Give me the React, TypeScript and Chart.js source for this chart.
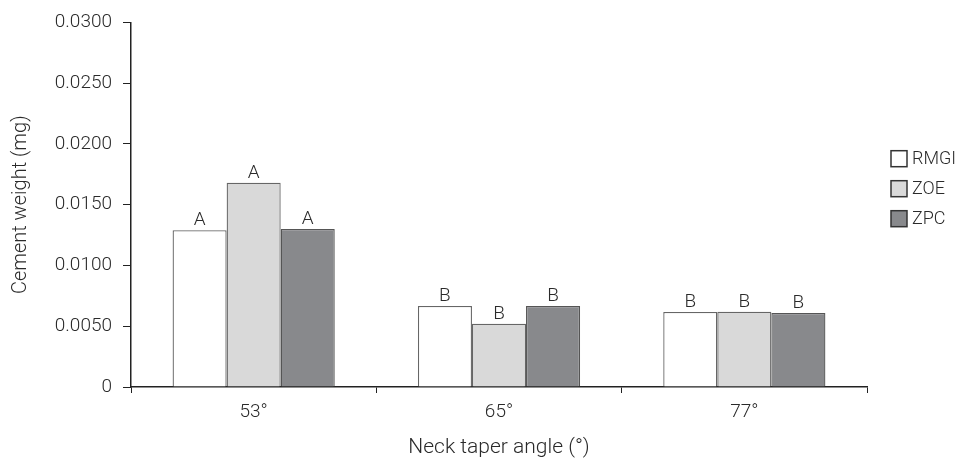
import React, { useEffect, useRef } from "react";
import { Chart, registerables } from "chart.js";

Chart.register(...registerables);

const categories = ["53°", "65°", "77°"];
const seriesNames = ["RMGI", "ZOE", "ZPC"];
const rmgi = [0.0129, 0.00667, 0.00617];
const zoe = [0.0168, 0.0052, 0.0062];
const zpc = [0.0130, 0.00667, 0.00609];
const rmgiLetters = ["A", "B", "B"];
const zoeLetters = ["A", "B", "B"];
const zpcLetters = ["A", "B", "B"];
const yTicks = [0, 0.005, 0.01, 0.015, 0.02, 0.025, 0.03];

const FONT = "Roboto, 'Liberation Sans', sans-serif";
const TEXT = "#2a2a2a";

const lettersPlugin = {
  id: "letters",
  afterDatasetsDraw(chart: any) {
    const ctx = chart.ctx;
    const all = [rmgiLetters, zoeLetters, zpcLetters];
    ctx.save();
    ctx.font = `300 19px ${FONT}`;
    ctx.fillStyle = TEXT;
    ctx.textAlign = "center";
    ctx.textBaseline = "alphabetic";
    chart.data.datasets.forEach((ds: any, di: number) => {
      const meta = chart.getDatasetMeta(di);
      meta.data.forEach((bar: any, i: number) => {
        ctx.fillText(all[di][i], bar.x, bar.y - 5);
      });
    });
    ctx.restore();
  },
};

const legendPlugin = {
  id: "customLegend",
  afterDraw(chart: any) {
    const ctx = chart.ctx;
    const ca = chart.chartArea;
    const x0 = ca.right + 24;
    const step = 30;
    const box = 16;
    const n = chart.data.datasets.length;
    const cy = (ca.top + ca.bottom) / 2 - 16;
    const y0 = cy - ((n - 1) * step) / 2;
    ctx.save();
    ctx.font = `300 18px ${FONT}`;
    ctx.textBaseline = "middle";
    ctx.textAlign = "left";
    chart.data.datasets.forEach((ds: any, i: number) => {
      const y = y0 + i * step;
      ctx.fillStyle = ds.backgroundColor;
      ctx.fillRect(x0, y - box / 2, box, box);
      ctx.strokeStyle = "#333";
      ctx.lineWidth = 1.5;
      ctx.strokeRect(x0, y - box / 2, box, box);
      ctx.fillStyle = TEXT;
      ctx.fillText(ds.label, x0 + box + 5, y + 1);
    });
    ctx.restore();
  },
};

export default function App() {
  const ref = useRef<HTMLCanvasElement | null>(null);
  useEffect(() => {
    if (!ref.current) return;
    const chart = new Chart(ref.current, {
      type: "bar",
      data: {
        labels: categories,
        datasets: [
          { label: seriesNames[0], data: rmgi, backgroundColor: "#ffffff", borderColor: "#666666", borderWidth: 1.3 },
          { label: seriesNames[1], data: zoe, backgroundColor: "#d9d9d9", borderColor: "#666666", borderWidth: 1.3 },
          { label: seriesNames[2], data: zpc, backgroundColor: "#88898c", borderColor: "#555555", borderWidth: 1.3 },
        ],
      },
      options: {
        responsive: false,
        animation: false,
        layout: { padding: { left: 8, right: 93, top: 16, bottom: 0 } },
        datasets: { bar: { barPercentage: 1, categoryPercentage: 0.661 } },
        plugins: { legend: { display: false }, tooltip: { enabled: false } },
        scales: {
          x: {
            grid: { display: true, drawOnChartArea: false, drawTicks: true, tickLength: 6, color: "#222", offset: true },
            border: { display: true, color: "#222", width: 1.5 },
            ticks: { color: TEXT, font: { family: FONT, size: 19, weight: "300" }, padding: 8 },
            title: { display: true, text: "Neck taper angle (°)", color: TEXT, font: { family: FONT, size: 21, weight: "300" }, padding: { top: 10, bottom: 2 } },
            afterFit(scale: any) { scale.height = 75; },
          },
          y: {
            min: 0,
            max: 0.03,
            afterBuildTicks(scale: any) { scale.ticks = yTicks.map((v) => ({ value: v })); },
            grid: { display: true, drawOnChartArea: false, drawTicks: true, tickLength: 8, color: "#222" },
            border: { display: true, color: "#222", width: 1.5 },
            ticks: {
              color: TEXT,
              font: { family: FONT, size: 19, weight: "300" },
              padding: 11,
              callback: (v: any) => (Number(v) === 0 ? "0" : Number(v).toFixed(4)),
            },
            title: { display: true, text: "Cement weight (mg)", color: TEXT, font: { family: FONT, size: 20, weight: "300" }, padding: { top: 1, bottom: 4 } },
            afterFit(scale: any) { scale.width = 123; },
          },
        },
      },
      plugins: [lettersPlugin, legendPlugin],
    });
    return () => chart.destroy();
  }, []);
  return (
    <div style={{ position: "fixed", left: 0, top: 0, width: 960, height: 462, background: "#fff" }}>
      <canvas ref={ref} width={960} height={462} />
    </div>
  );
}
